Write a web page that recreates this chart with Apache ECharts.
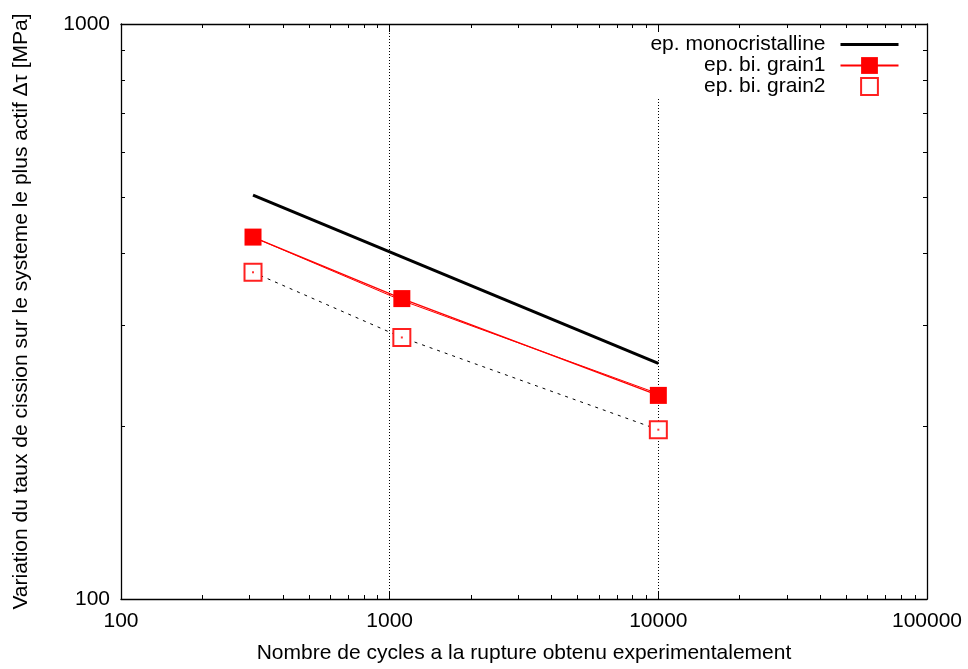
<!DOCTYPE html>
<html><head><meta charset="utf-8">
<script src="https://cdn.jsdelivr.net/npm/echarts@6/dist/echarts.min.js"></script>
<style>html,body{margin:0;padding:0;background:#fff}#c{width:968px;height:669px}</style>
</head><body><div id="c"></div>
<script>
// ---- data ----
const monoX = [310, 10000];
const monoY = [504, 257];
const g1X = [310, 1110, 10000];
const g1Y = [426, 333, 226];
const g1bX = [310, 1110, 10000];
const g1bY = [426, 330.5, 227.5];
const g2X = [310, 1110, 10000];
const g2Y = [370, 285, 197];
const xMajor = [100, 1000, 10000, 100000];
const yMajor = [100, 1000];
const xMinor = [200,300,400,500,600,700,800,900,2000,3000,4000,5000,6000,7000,8000,9000,20000,30000,40000,50000,60000,70000,80000,90000];
const yMinor = [200,300,400,500,600,700,800,900];
const names = ['ep. monocristalline', 'ep. bi. grain1', 'ep. bi. grain2'];
const xTitle = 'Nombre de cycles a la rupture obtenu experimentalement';
const yTitle = 'Variation du taux de cission sur le systeme le plus actif \u0394\u03c4 [MPa]';

const zip = (a, b) => a.map((v, i) => [v, b[i]]);
const FONT = 'Liberation Sans';
const FS = 21;
const X0 = xMajor[0], X1 = xMajor[xMajor.length - 1];
const Y0 = yMajor[0], Y1 = yMajor[yMajor.length - 1];
const MAJ = 8, MIN = 4;

const chart = echarts.init(document.getElementById('c'), null, {renderer: 'canvas'});

function tickLine(x1, y1, x2, y2) {
  return {type: 'line', shape: {x1, y1, x2, y2}, style: {stroke: '#000', lineWidth: 1}};
}
const px = v => Math.round(v) + 0.5;

const option = {
  animation: false,
  backgroundColor: '#fff',
  grid: {left: 121, right: 41, top: 24, bottom: 69, containLabel: false},
  legend: {
    data: [
      {name: names[0], itemStyle: {color: 'rgba(0,0,0,0)', borderWidth: 0, opacity: 0}, lineStyle: {width: 3, color: '#000'}},
      {name: names[1]},
      {name: names[2]}
    ],
    orient: 'vertical',
    right: 63, top: 32,
    align: 'right',
    itemWidth: 58, itemHeight: 21, itemGap: 0,
    padding: [2, 5, 0, 14],
    backgroundColor: '#fff',
    textStyle: {fontFamily: FONT, fontSize: FS, color: '#000', padding: [0, 10, 0, 0], lineHeight: 21},
    selectedMode: false
  },
  xAxis: [{
    type: 'log', logBase: 10, min: X0, max: X1, position: 'bottom',
    name: xTitle, nameLocation: 'middle', nameGap: 44,
    nameTextStyle: {fontFamily: FONT, fontSize: FS, color: '#000'},
    axisLine: {show: true, lineStyle: {color: '#000', width: 1.3}},
    axisTick: {show: true, inside: true, length: MAJ, lineStyle: {color: '#000'}},
    axisLabel: {show: true, margin: 12, fontFamily: FONT, fontSize: FS, color: '#000', formatter: v => String(Math.round(v))},
    splitLine: {show: true, lineStyle: {color: '#000', width: 1, type: [1, 2]}}
  }, {
    type: 'log', logBase: 10, min: X0, max: X1, position: 'top',
    axisLine: {show: true, lineStyle: {color: '#000', width: 1.3}},
    axisTick: {show: true, inside: true, length: MAJ, lineStyle: {color: '#000'}},
    axisLabel: {show: false}, splitLine: {show: false}
  }],
  yAxis: [{
    type: 'log', logBase: 10, min: Y0, max: Y1, position: 'left',
    name: yTitle, nameLocation: 'middle', nameGap: 89,
    nameTextStyle: {fontFamily: FONT, fontSize: FS, color: '#000'},
    axisLine: {show: true, lineStyle: {color: '#000', width: 1.3}},
    axisTick: {show: true, inside: true, length: MAJ, lineStyle: {color: '#000'}},
    axisLabel: {show: true, margin: 11, fontFamily: FONT, fontSize: FS, color: '#000', formatter: v => String(Math.round(v))},
    splitLine: {show: false}
  }, {
    type: 'log', logBase: 10, min: Y0, max: Y1, position: 'right',
    axisLine: {show: true, lineStyle: {color: '#000', width: 1.3}},
    axisTick: {show: true, inside: true, length: MAJ, lineStyle: {color: '#000'}},
    axisLabel: {show: false}, splitLine: {show: false}
  }],
  series: [
    {
      name: names[0], type: 'line', data: zip(monoX, monoY),
      symbol: 'none', lineStyle: {color: '#000', width: 3}, itemStyle: {color: '#000'}, z: 5
    },
    {
      name: '_g1b', type: 'line', data: zip(g1bX, g1bY),
      symbol: 'none', lineStyle: {color: '#ff0000', width: 1}, z: 4
    },
    {
      name: names[1], type: 'line', data: zip(g1X, g1Y),
      symbol: 'rect', symbolSize: 17, lineStyle: {color: '#ff0000', width: 1.2},
      itemStyle: {color: '#ff0000'}, z: 6
    },
    {
      name: '_g2line', type: 'line', data: zip(g2X, g2Y),
      symbol: 'none', lineStyle: {color: '#000', width: 1, type: [3, 5]}, z: 3
    },
    {
      name: names[2], type: 'line', data: zip(g2X, g2Y),
      symbol: 'emptyRect', symbolSize: 17, showSymbol: true,
      lineStyle: {width: 0, opacity: 0},
      itemStyle: {color: '#ff2020', borderWidth: 1.5}, z: 6
    },
    {
      name: '_g2dot', type: 'scatter', data: zip(g2X, g2Y),
      symbol: 'rect', symbolSize: 2, itemStyle: {color: '#ff0000'}, z: 7, silent: true
    },
    {
      name: '_xminor', type: 'custom', xAxisIndex: 0, yAxisIndex: 0, clip: false, silent: true, z: 8,
      data: xMinor.map(v => [v, Y0]),
      renderItem: function (params, api) {
        const v = api.value(0);
        const b = api.coord([v, Y0]);
        const t = api.coord([v, Y1]);
        const x = px(b[0]);
        return {type: 'group', children: [
          tickLine(x, b[1], x, b[1] - MIN),
          tickLine(x, t[1], x, t[1] + MIN)
        ]};
      }
    },
    {
      name: '_yminor', type: 'custom', xAxisIndex: 0, yAxisIndex: 0, clip: false, silent: true, z: 8,
      data: yMinor.map(v => [X0, v]),
      renderItem: function (params, api) {
        const v = api.value(1);
        const l = api.coord([X0, v]);
        const r = api.coord([X1, v]);
        const y = px(l[1]);
        return {type: 'group', children: [
          tickLine(l[0], y, l[0] + MIN, y),
          tickLine(r[0], y, r[0] - MIN, y)
        ]};
      }
    }
  ]
};
chart.setOption(option);
</script>
</body></html>
